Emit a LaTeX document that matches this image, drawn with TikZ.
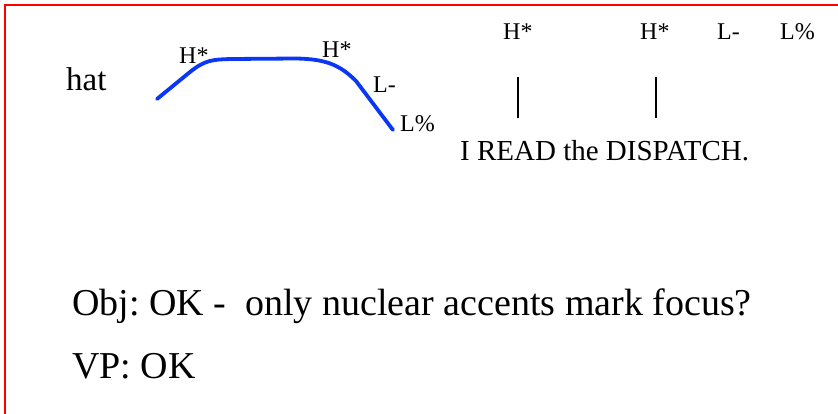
\documentclass[tikz,border=0pt]{standalone}
\usepackage{fontspec}
\setmainfont{Liberation Serif}
\frenchspacing
\definecolor{curveblue}{RGB}{10,55,245}
\definecolor{frame}{RGB}{255,0,0}
\tikzset{
  lbl/.style={anchor=base west,inner sep=0pt,font=\fontsize{24}{24}\selectfont},
  big/.style={anchor=base west,inner sep=0pt,font=\fontsize{38}{38}\selectfont},
  contour/.style={draw=curveblue,line width=3.8pt,line cap=round,line join=round},
  bar/.style={draw=black,line width=1.8pt},
  border/.style={draw=frame,line width=2.2pt}
}
\begin{document}
\begin{tikzpicture}[x=1pt,y=-1pt]
\useasboundingbox (0,0) rectangle (838,414);
\draw[border] (5,414) -- (5,5) -- (838,5);
% left: hat contour
\node[anchor=base west,inner sep=0pt,font=\fontsize{33}{33}\selectfont] (hat) at (66,91) {hat};
\draw[contour] (157,99) -- (190,72) .. controls (205,60) and (212,59.5) .. (232,59) -- (296,58.5)
  .. controls (326,59) and (340,65) .. (356,81) -- (393,130);
\node[lbl] (h1) at (179,64) {H*};
\node[lbl] (h2) at (322,58) {H*};
\node[lbl] (lm) at (373,93) {L-};
\node[lbl] (lp) at (400,132) {L\%};
% right: tune
\node[lbl] (rh1) at (503,40) {H*};
\node[lbl] (rh2) at (640,40) {H*};
\node[lbl] (rlm) at (717,40) {L-};
\node[lbl] (rlp) at (780,40) {L\%};
\node[anchor=base west,inner sep=0pt,font=\fontsize{29}{29}\selectfont] (sent) at (460,161) {I READ the DISPATCH.};
\coordinate (b1t) at (518,77);
\coordinate (b1b) at (518,118);
\coordinate (b2t) at (656,77);
\coordinate (b2b) at (656,118);
\draw[bar] (b1t) -- (b1b);
\draw[bar] (b2t) -- (b2b);
% bottom text
\node[big] (obj) at (72,315) {Obj: OK -~~only nuclear accents mark focus?};
\node[big] (vp) at (72,378) {VP: OK};
\end{tikzpicture}
\end{document}
